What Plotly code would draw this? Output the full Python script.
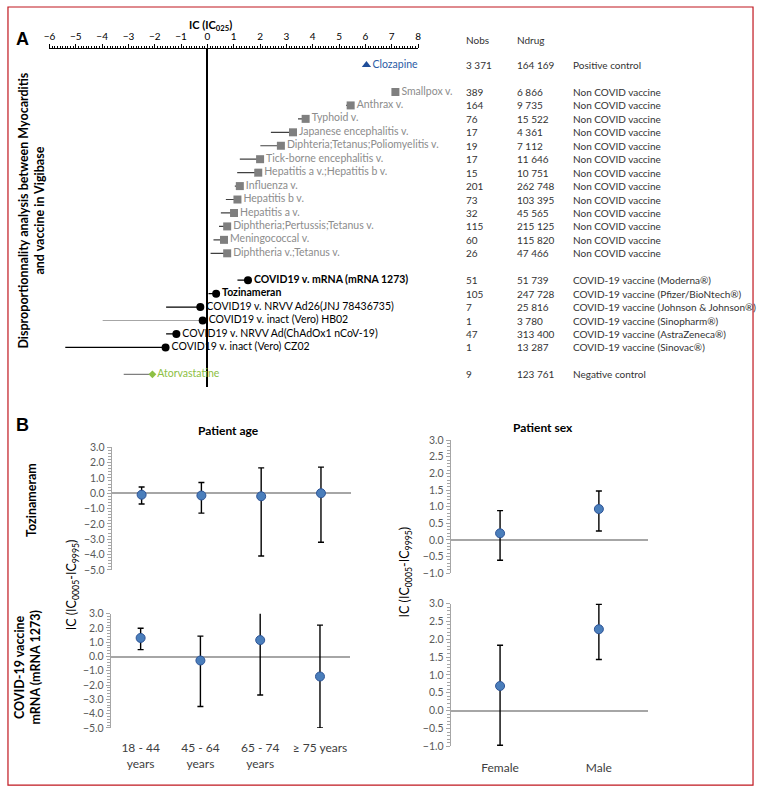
import plotly.graph_objects as go

W, H = 758, 793


def px(x):
    return x / W


def py(y):
    return 1 - y / H


FONT = "Lato"

# ---------------- Panel A data ----------------
a_labels = [
    "Clozapine",
    "Smallpox v.", "Anthrax v.", "Typhoid v.", "Japanese encephalitis v.",
    "Diphteria;Tetanus;Poliomyelitis v.", "Tick-borne encephalitis v.",
    "Hepatitis a v.;Hepatitis b v.", "Influenza v.", "Hepatitis b v.",
    "Hepatitis a v.", "Diphtheria;Pertussis;Tetanus v.", "Meningococcal v.",
    "Diphtheria v.;Tetanus v.",
    "COVID19 v. mRNA (mRNA 1273)", "Tozinameran",
    "COVID19 v. NRVV Ad26(JNJ 78436735)", "COVID19 v. inact (Vero) HB02",
    "COVID19 v. NRVV Ad(ChAdOx1 nCoV-19)", "COVID19 v. inact (Vero) CZ02",
    "Atorvastatine",
]
a_group = (["pos"] + ["non"] * 13 + ["covid"] * 6 + ["neg"])
a_ic = [6.04, 7.14, 5.44, 3.73, 3.25, 2.79, 2.00, 1.93, 1.23, 1.14, 1.01,
        0.75, 0.63, 0.75, 1.54, 0.33, -0.27, -0.18, -1.18, -1.59, -2.09]
a_ic025 = [5.95, 7.05, 5.27, 3.44, 2.41, 2.01, 1.23, 1.13, 1.04, 0.70, 0.51,
           0.44, 0.23, 0.12, 1.14, 0.04, -1.57, -3.98, -1.57, -5.40, -3.18]
a_nobs = ["3 371", "389", "164", "76", "17", "19", "17", "15", "201", "73",
          "32", "115", "60", "26", "51", "105", "7", "1", "47", "1", "9"]
a_ndrug = ["164 169", "6 866", "9 735", "15 522", "4 361", "7 112", "11 646",
           "10 751", "262 748", "103 395", "45 565", "215 125", "115 820",
           "47 466", "51 739", "247 728", "25 816", "3 780", "313 400",
           "13 287", "123 761"]
a_class = (["Positive control"] + ["Non COVID vaccine"] * 13 + [
    "COVID-19 vaccine (Moderna®)", "COVID-19 vaccine (Pfizer/BioNtech®)",
    "COVID-19 vaccine (Johnson & Johnson®)", "COVID-19 vaccine (Sinopharm®)",
    "COVID-19 vaccine (AstraZeneca®)", "COVID-19 vaccine (Sinovac®)",
    "Negative control"])

a_ticks = list(range(-6, 9))

# ---------------- Panel B data ----------------
age_categories = ["18 - 44<br>years", "45 - 64<br>years", "65 - 74<br>years", "≥ 75 years"]
toz_age_ic = [-0.10, -0.15, -0.20, 0.00]
toz_age_lo = [-0.70, -1.30, -4.10, -3.20]
toz_age_hi = [0.40, 0.70, 1.65, 1.70]
mrna_age_ic = [1.30, -0.28, 1.15, -1.40]
mrna_age_lo = [0.48, -3.50, -2.70, -5.00]
mrna_age_hi = [1.98, 1.43, 3.20, 2.20]

sex_categories = ["Female", "Male"]
toz_sex_ic = [0.20, 0.93]
toz_sex_lo = [-0.61, 0.27]
toz_sex_hi = [0.88, 1.47]
mrna_sex_ic = [0.69, 2.28]
mrna_sex_lo = [-0.97, 1.43]
mrna_sex_hi = [1.83, 2.98]

# ---------------- styles ----------------
GROUP_STYLE = {
    "pos": dict(symbol="triangle-up", mcolor="#1F4E9A", size=8, tcolor="#2B5BA5", wcolor="#404040"),
    "non": dict(symbol="square", mcolor="#7F7F7F", size=8, tcolor="#8C8C8C", wcolor="#404040"),
    "covid": dict(symbol="circle", mcolor="#000000", size=8, tcolor="#000000", wcolor="#000000"),
    "neg": dict(symbol="diamond", mcolor="#8DC044", size=6, tcolor="#8DC044", wcolor="#7F7F7F"),
}
BOLD_LABELS = {"COVID19 v. mRNA (mRNA 1273)", "Tozinameran"}
WHISKER_OVERRIDE = {"COVID19 v. inact (Vero) HB02": "#A6A6A6"}

fig = go.Figure()

# row positions: one blank row between groups
rows = []
r = 0
prev = None
for g in a_group:
    if prev is not None:
        r += 2 if g != prev else 1
    rows.append(r)
    prev = g

for i, lab in enumerate(a_labels):
    st = GROUP_STYLE[a_group[i]]
    txt = f"<b>{lab}</b>" if lab in BOLD_LABELS else lab
    fig.add_trace(go.Scatter(
        x=[a_ic[i]], y=[rows[i]], xaxis="x", yaxis="y",
        mode="markers+text", text=[txt], textposition="middle right",
        textfont=dict(family=FONT, size=10.5, color=st["tcolor"]),
        marker=dict(symbol=st["symbol"], size=st["size"], color=st["mcolor"]),
        error_x=dict(type="data", symmetric=False, array=[0],
                     arrayminus=[a_ic[i] - a_ic025[i]],
                     color=WHISKER_OVERRIDE.get(lab, st["wcolor"]),
                     thickness=1.2, width=0),
        cliponaxis=False, showlegend=False, hoverinfo="skip",
    ))


def ann(x, y, text, font, **kw):
    d = dict(x=px(x), y=py(y), xref="paper", yref="paper", text=text,
             showarrow=False, xanchor="center", yanchor="middle", font=font)
    d.update(kw)
    return d


annotations = []
TBL = dict(family=FONT, size=10, color="#333333")
for i in range(len(a_labels)):
    for xx, val in ((463, a_nobs[i]), (515, a_ndrug[i]), (572, a_class[i])):
        annotations.append(dict(x=px(xx), xref="paper", y=rows[i], yref="y",
                                text=val, showarrow=False, xanchor="left",
                                yanchor="middle", font=TBL))
for xx, val in ((463, "Nobs"), (515, "Ndrug")):
    annotations.append(ann(xx, 35, val, TBL, xanchor="left"))

BIG = dict(family="Liberation Sans", size=18, color="#000")
annotations += [
    ann(17, 33, "<b>A</b>", BIG),
    ann(17, 425, "<b>B</b>", BIG),
    ann(207, 20, "<b>IC (IC<sub>025</sub>)</b>", dict(family=FONT, size=11, color="#000")),
    ann(26, 208, "<b>Disproportionnality analysis between Myocarditis<br>and vaccine in Vigibase</b>",
        dict(family=FONT, size=12.5, color="#000"), textangle=-90),
]

# ---------------- Panel B traces ----------------
def add_ci(xa, ya, cats, ic, lo, hi):
    fig.add_trace(go.Scatter(
        x=cats, y=ic, xaxis=xa, yaxis=ya, mode="markers",
        marker=dict(size=9, color="#4A7EBB", line=dict(color="#2F5597", width=1)),
        error_y=dict(type="data", symmetric=False,
                     array=[h - v for h, v in zip(hi, ic)],
                     arrayminus=[v - l for v, l in zip(ic, lo)],
                     color="#000000", thickness=1.4, width=3),
        showlegend=False, hoverinfo="skip", cliponaxis=False,
    ))


add_ci("x3", "y3", age_categories, toz_age_ic, toz_age_lo, toz_age_hi)
add_ci("x4", "y4", age_categories, mrna_age_ic, mrna_age_lo, mrna_age_hi)
add_ci("x5", "y5", sex_categories, toz_sex_ic, toz_sex_lo, toz_sex_hi)
add_ci("x6", "y6", sex_categories, mrna_sex_ic, mrna_sex_lo, mrna_sex_hi)

LBL = dict(family=FONT, size=12, color="#000")
ROT = dict(family=FONT, size=12.5, color="#000")
annotations += [
    ann(225, 431, "<b>Patient age</b>", LBL),
    ann(543, 428, "<b>Patient sex</b>", LBL),
    ann(26, 502, "<b>Tozinameram</b>", ROT, textangle=-90),
    ann(22, 672, "<b>COVID-19 vaccine<br>mRNA (mRNA 1273)</b>", ROT, textangle=-90),
    ann(67, 588, "IC (IC<sub>0005</sub>-IC<sub>9995</sub>)", ROT, textangle=-90),
    ann(404, 575, "IC (IC<sub>0005</sub>-IC<sub>9995</sub>)", ROT, textangle=-90),
    dict(x=2, y=3.2, xref="x4", yref="y4", text="<b>*</b>", showarrow=False,
         xanchor="center", yanchor="middle", yshift=-3,
         font=dict(family=FONT, size=16, color="#000")),
]

GRAY = "#A6A6A6"
TICKF = dict(family=FONT, size=10.5, color="#595959")


def yax(dom_top, dom_bot, rng, dt, mdt, anchor):
    return dict(domain=[py(dom_bot), py(dom_top)], range=rng, anchor=anchor,
                dtick=dt, tick0=0, tickformat=".1f", showline=True,
                linecolor=GRAY, linewidth=1, ticks="outside", ticklen=4,
                tickcolor=GRAY, tickfont=TICKF, showgrid=False,
                zeroline=True, zerolinecolor=GRAY, zerolinewidth=1.5,
                minor=dict(dtick=mdt, tick0=0, ticks="outside", ticklen=2.5,
                           tickcolor=GRAY, showgrid=False),
                fixedrange=True)


def yover(base, rng, dt, mdt, anchor):
    return dict(overlaying=base, anchor=anchor, side="left", range=rng,
                dtick=dt, tick0=0, showline=False, ticks="inside", ticklen=4,
                tickcolor=GRAY, showticklabels=False, showgrid=False,
                zeroline=False,
                minor=dict(dtick=mdt, tick0=0, ticks="inside", ticklen=2.5,
                           tickcolor=GRAY, showgrid=False))


def xcat(l, r, n, labels, anchor, stand=0):
    return dict(domain=[px(l), px(r)], anchor=anchor, type="category",
                range=[-0.5, n - 0.5], showline=False, ticks="", showgrid=False,
                zeroline=False, showticklabels=labels,
                tickfont=dict(family=FONT, size=12, color="#404040"),
                ticklabelstandoff=stand, fixedrange=True)


layout = dict(
    width=W, height=H, autosize=False, margin=dict(l=0, r=0, t=0, b=0, pad=0),
    paper_bgcolor="white", plot_bgcolor="rgba(0,0,0,0)",
    font=dict(family=FONT),
    showlegend=False,
    xaxis=dict(domain=[px(44), px(417)], range=[-6, 8], side="top", anchor="y",
               tickvals=a_ticks, ticks="outside", ticklen=4, tickcolor="#000",
               showline=True, linecolor="#000", linewidth=1,
               tickfont=dict(family=FONT, size=10, color="#000"),
               showgrid=False, zeroline=True, zerolinecolor="#000",
               zerolinewidth=2,
               minor=dict(dtick=0.1, tick0=0, ticks="outside", ticklen=2.5,
                          tickcolor="#000", showgrid=False),
               fixedrange=True),
    xaxis2=dict(overlaying="x", anchor="y", side="top", range=[-6, 8],
                tickvals=a_ticks, ticks="inside", ticklen=4, tickcolor="#000",
                showticklabels=False, showline=False, showgrid=False,
                zeroline=False,
                minor=dict(dtick=0.1, tick0=0, ticks="inside", ticklen=2.5,
                           tickcolor="#000", showgrid=False)),
    yaxis=dict(domain=[py(387), py(44)], range=[(387 - 60) / 13.65, -(60 - 44) / 13.65],
               visible=False, fixedrange=True),
    xaxis3=xcat(107, 349, 4, False, "y3"),
    xaxis4=xcat(106, 348, 4, True, "y4", 11),
    xaxis5=xcat(450, 650, 2, False, "y5"),
    xaxis6=xcat(450, 650, 2, True, "y6", 13),
    yaxis3=yax(448, 572.5, [-5, 3], 1, 0.2, "x3"),
    yaxis4=yax(617, 733, [-5, 3], 1, 0.2, "x4"),
    yaxis5=yax(440.7, 576, [-1, 3], 0.5, 0.1, "x5"),
    yaxis6=yax(606.7, 751.7, [-1, 3], 0.5, 0.1, "x6"),
    yaxis7=yover("y3", [-5, 3], 1, 0.2, "x3"),
    yaxis8=yover("y4", [-5, 3], 1, 0.2, "x4"),
    yaxis9=yover("y5", [-1, 3], 0.5, 0.1, "x5"),
    yaxis10=yover("y6", [-1, 3], 0.5, 0.1, "x6"),
    annotations=annotations,
    shapes=[dict(type="rect", xref="paper", yref="paper", x0=px(2), x1=px(756),
                 y0=py(791), y1=py(1), line=dict(color="#C0171F", width=1.2))],
)
fig.update_layout(layout)

fig.write_html(
    "out.html",
    config={"responsive": False, "displayModeBar": False},
    post_script="document.body.style.margin='0';document.body.style.overflow='hidden';",
)
